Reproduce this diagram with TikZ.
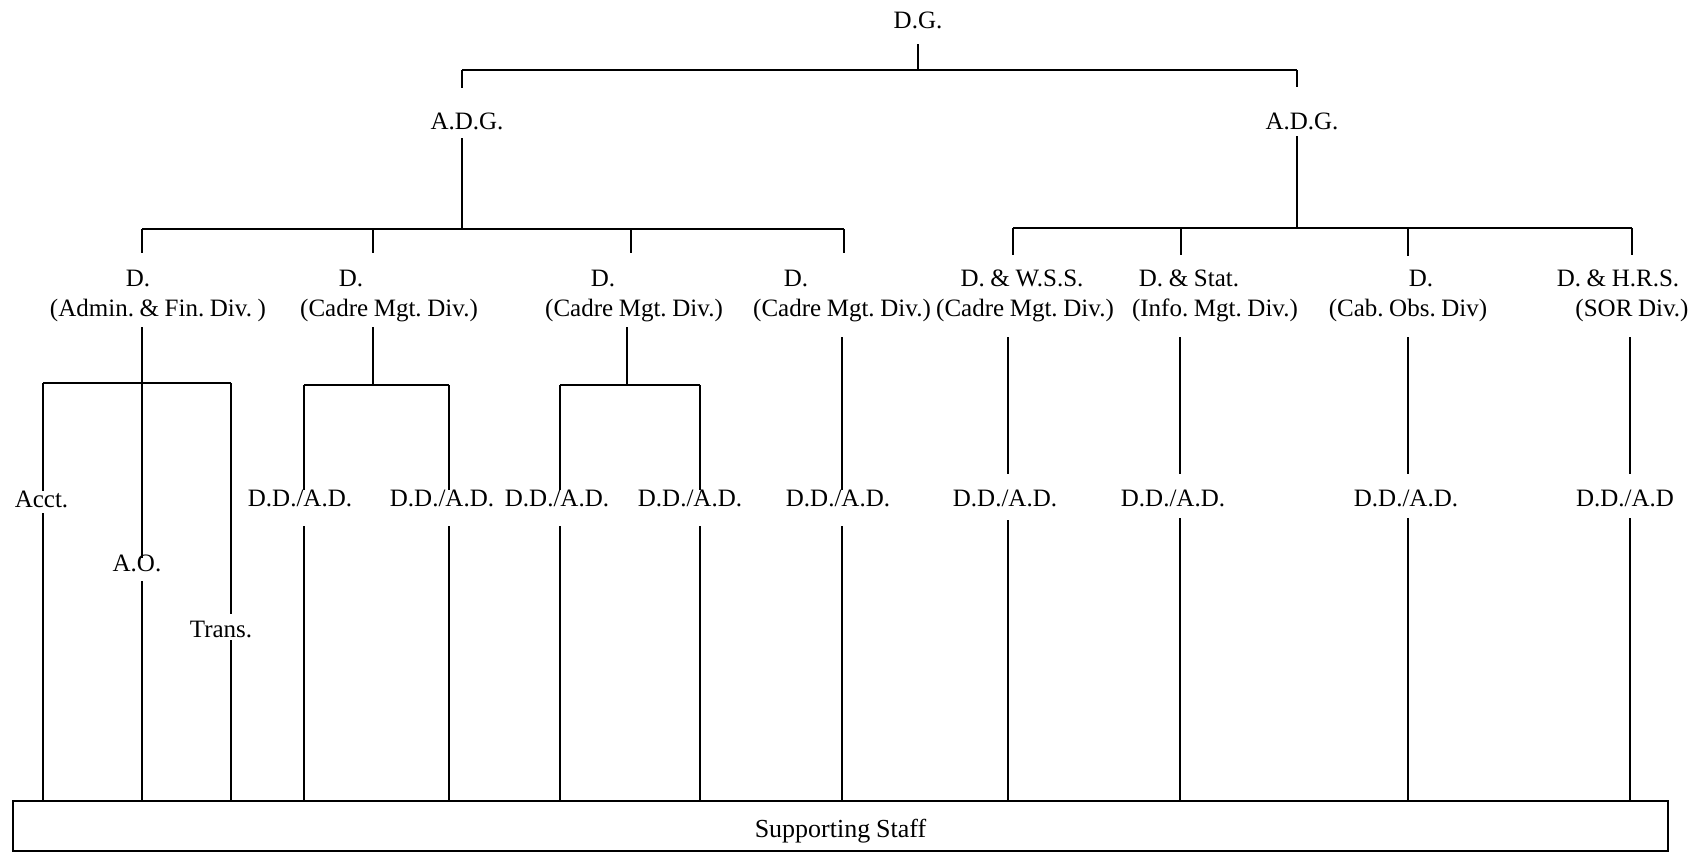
\documentclass[tikz,border=0pt]{standalone}
\usepackage{fontspec}
\setmainfont[WordSpace=0.9]{Liberation Serif}
\frenchspacing
\begin{document}
\begin{tikzpicture}[x=0.5pt,y=-0.5pt,
  lbl/.style={inner sep=0pt, outer sep=0pt, anchor=base, font=\fontsize{12.5}{14}\selectfont\frenchspacing},
  ln/.style={line width=1pt},
  bar/.style={line width=1.3pt},
  staffbox/.style={draw, line width=1pt, inner sep=0pt, text height=12pt, text depth=1pt,
    minimum width=827.5pt, minimum height=25pt, font=\fontsize{13}{15}\selectfont}]
\useasboundingbox (0,0) rectangle (1704,853);

% ---- nodes ----
\node[lbl] (dg) at (918,28) {D.G.};
\node[lbl] (adgL) at (467,129) {A.D.G.};
\node[lbl] (adgR) at (1302,129) {A.D.G.};

\node[lbl] (dA) at (138,286) {D.};
\node[lbl] (pA) at (158,316) {(Admin. \& Fin. Div. )};
\node[lbl] (dB) at (351,286) {D.};
\node[lbl] (pB) at (389,316) {(Cadre Mgt. Div.)};
\node[lbl] (dC) at (603,286) {D.};
\node[lbl] (pC) at (634,316) {(Cadre Mgt. Div.)};
\node[lbl] (dD) at (796,286) {D.};
\node[lbl] (pD) at (842,316) {(Cadre Mgt. Div.)};
\node[lbl] (dE) at (1022,286) {D. \& W.S.S.};
\node[lbl] (pE) at (1025,316) {(Cadre Mgt. Div.)};
\node[lbl] (dF) at (1189,286) {D. \& Stat.};
\node[lbl] (pF) at (1215,316) {(Info. Mgt. Div.)};
\node[lbl] (dG) at (1421,286) {D.};
\node[lbl] (pG) at (1408,316) {(Cab. Obs. Div)};
\node[lbl] (dH) at (1618,286) {D. \& H.R.S.};
\node[lbl] (pH) at (1632,316) {(SOR Div.)};

\node[lbl] (acct) at (41.5,507) {Acct.};
\node[lbl] (ao) at (137,571) {A.O.};
\node[lbl] (trans) at (221,637) {Trans.};
\node[lbl] (ddB1) at (300,506) {D.D./A.D.};
\node[lbl] (ddB2) at (442,506) {D.D./A.D.};
\node[lbl] (ddC1) at (557,506) {D.D./A.D.};
\node[lbl] (ddC2) at (690,506) {D.D./A.D.};
\node[lbl] (ddD) at (838,506) {D.D./A.D.};
\node[lbl] (ddE) at (1005,506) {D.D./A.D.};
\node[lbl] (ddF) at (1173,506) {D.D./A.D.};
\node[lbl] (ddG) at (1406,506) {D.D./A.D.};
\node[lbl] (ddH) at (1625,506) {D.D./A.D};

\node[staffbox] (staff) at (840.5,826) {Supporting Staff};

% ---- coordinates ----
\coordinate (tL) at (462,70);
\coordinate (tR) at (1297,70);
\coordinate (bL1) at (142,229);
\coordinate (kB) at (373,229);
\coordinate (kC) at (631,229);
\coordinate (bL2) at (844,229);
\coordinate (bR1) at (1013,228);
\coordinate (kF) at (1181,228);
\coordinate (kG) at (1408,228);
\coordinate (bR2) at (1632,228);
\coordinate (aL) at (43,383);
\coordinate (aR) at (231,383);
\coordinate (cB1) at (304,385);
\coordinate (cB2) at (449,385);
\coordinate (cC1) at (560,385);
\coordinate (cC2) at (700,385);
\coordinate (sC) at (627,385);
\coordinate (sD) at (842,385);
\coordinate (sE) at (1008,385);
\coordinate (sF) at (1180,385);
\coordinate (sH) at (1630,385);

% ---- top levels ----
\draw[ln, shorten <=8pt] (dg.south) -- (dg.south |- tL);
\draw[bar] (tL) -- (tR);
\draw[ln, shorten >=12pt] (tL) -- (tL |- adgL.north);
\draw[ln, shorten >=12.5pt] (tR) -- (tR |- adgR.north);
\draw[ln, shorten <=4.5pt] (tL |- adgL.south) -- (tL |- bL1);
\draw[ln, shorten <=3.5pt] (tR |- adgR.south) -- (tR |- bR1);

% ---- division bars ----
\draw[bar] (bL1) -- (bL2);
\draw[ln, shorten >=8.5pt] (bL1) -- (bL1 |- dA.north);
\draw[ln, shorten >=8.5pt] (kB) -- (kB |- dB.north);
\draw[ln, shorten >=8.5pt] (kC) -- (kC |- dC.north);
\draw[ln, shorten >=8.5pt] (bL2) -- (bL2 |- dD.north);

\draw[bar] (bR1) -- (bR2);
\draw[ln, shorten >=7pt] (bR1) -- (bR1 |- dE.north);
\draw[ln, shorten >=7pt] (kF) -- (kF |- dF.north);
\draw[ln, shorten >=7pt] (kG) -- (kG |- dG.north);
\draw[ln, shorten >=7pt] (bR2) -- (bR2 |- dH.north);

% ---- Admin & Fin ----
\draw[ln, shorten <=3pt, shorten >=-2pt] (bL1 |- pA.south) -- (bL1 |- ao.north);
\draw[ln, shorten <=5pt] (bL1 |- ao.south) -- (bL1 |- staff.north);
\draw[bar] (aL) -- (aR);
\draw[ln] (aL) -- (aL |- acct.north);
\draw[ln, shorten <=3pt] (aL |- acct.south) -- (aL |- staff.north);
\draw[ln, shorten >=3.5pt] (aR) -- (aR |- trans.north);
\draw[ln, shorten <=1.5pt] (aR |- trans.south) -- (aR |- staff.north);

% ---- Cadre B ----
\draw[ln, shorten <=3pt] (kB |- pB.south) -- (kB |- cB1);
\draw[bar] (cB1) -- (cB2);
\draw[ln] (cB1) -- (cB1 |- ddB1.north);
\draw[ln, shorten <=10pt] (cB1 |- ddB1.south) -- (cB1 |- staff.north);
\draw[ln] (cB2) -- (cB2 |- ddB2.north);
\draw[ln, shorten <=10pt] (cB2 |- ddB2.south) -- (cB2 |- staff.north);

% ---- Cadre C ----
\draw[ln, shorten <=3pt] (sC |- pC.south) -- (sC);
\draw[bar] (cC1) -- (cC2);
\draw[ln] (cC1) -- (cC1 |- ddC1.north);
\draw[ln, shorten <=10pt] (cC1 |- ddC1.south) -- (cC1 |- staff.north);
\draw[ln] (cC2) -- (cC2 |- ddC2.north);
\draw[ln, shorten <=10pt] (cC2 |- ddC2.south) -- (cC2 |- staff.north);

% ---- Cadre D ----
\draw[ln, shorten <=8pt] (sD |- pD.south) -- (sD |- ddD.north);
\draw[ln, shorten <=10pt] (sD |- ddD.south) -- (sD |- staff.north);

% ---- right divisions ----
\draw[ln, shorten <=8pt, shorten >=8pt] (sE |- pE.south) -- (sE |- ddE.north);
\draw[ln, shorten <=7pt] (sE |- ddE.south) -- (sE |- staff.north);
\draw[ln, shorten <=8pt, shorten >=8pt] (sF |- pF.south) -- (sF |- ddF.north);
\draw[ln, shorten <=6pt] (sF |- ddF.south) -- (sF |- staff.north);
\draw[ln, shorten <=8pt, shorten >=8pt] (kG |- pG.south) -- (kG |- ddG.north);
\draw[ln, shorten <=6pt] (kG |- ddG.south) -- (kG |- staff.north);
\draw[ln, shorten <=8pt, shorten >=8pt] (sH |- pH.south) -- (sH |- ddH.north);
\draw[ln, shorten <=6pt] (sH |- ddH.south) -- (sH |- staff.north);
\end{tikzpicture}
\end{document}
